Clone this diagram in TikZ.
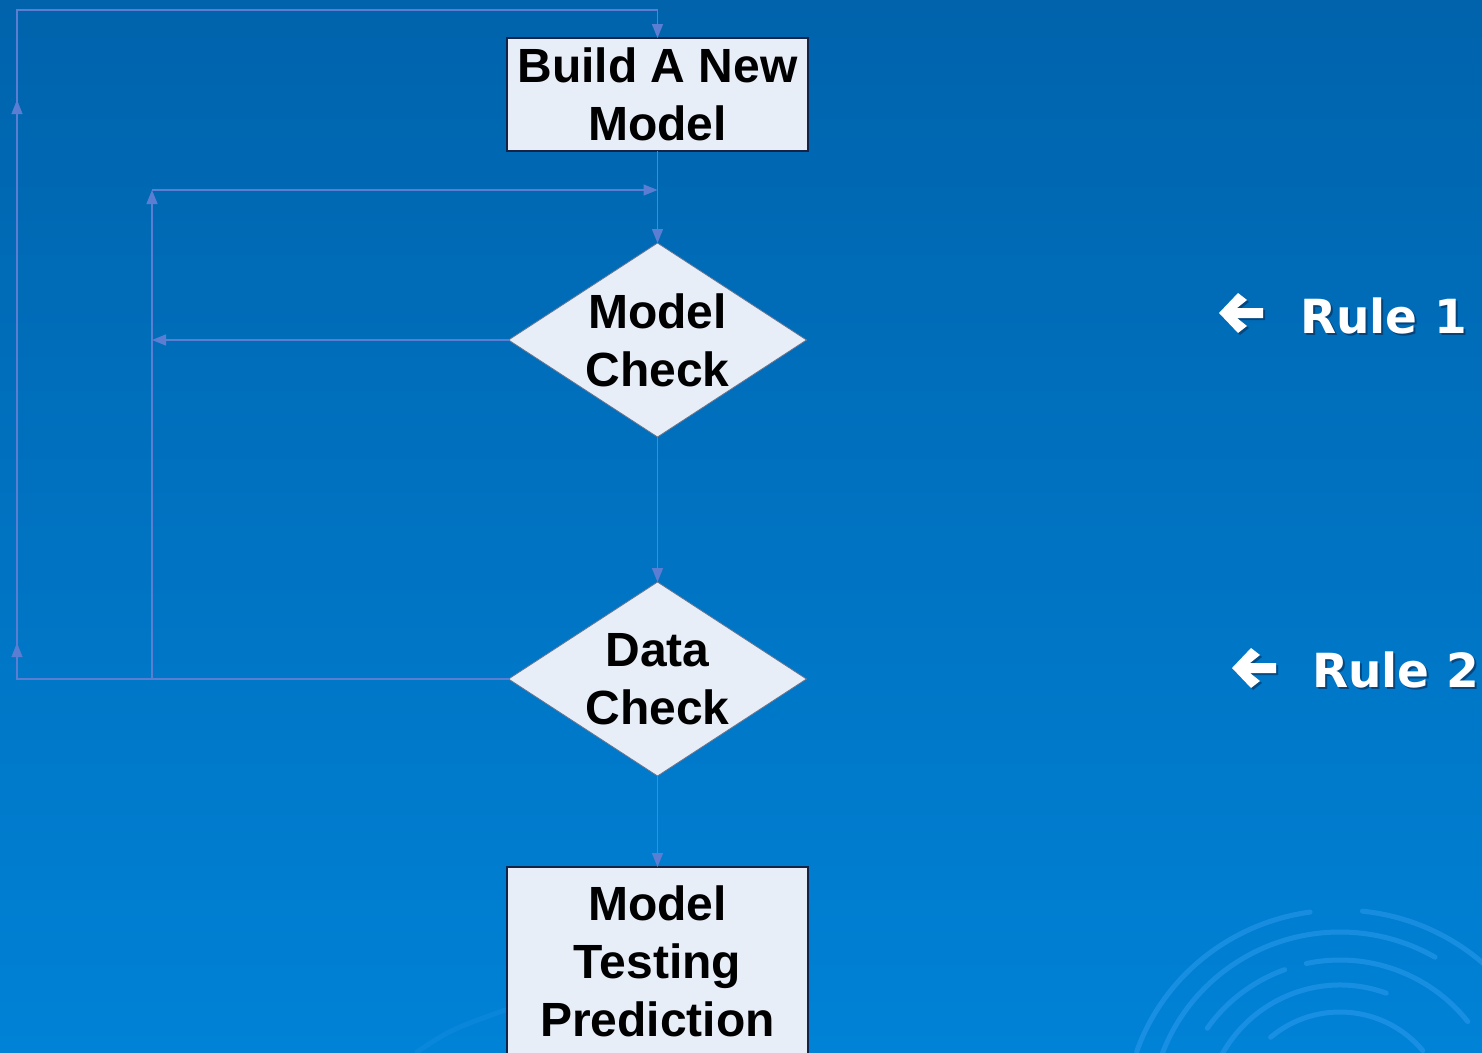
\documentclass[tikz,border=0pt]{standalone}
\usepackage{fontspec}
\setmainfont{Liberation Sans}
\newfontfamily\rulefont{DejaVu Sans}
\usetikzlibrary{shapes.geometric, arrows.meta, decorations.markings}

\definecolor{bgtop}{RGB}{0,99,172}
\definecolor{bgbot}{RGB}{0,130,214}
\definecolor{linkblue}{RGB}{92,126,210}
\definecolor{boxfill}{RGB}{232,238,248}
\definecolor{boxline}{RGB}{20,35,70}
\definecolor{ripple}{RGB}{45,155,238}
\definecolor{shadowblue}{RGB}{10,40,80}

\tikzset{flowhead/.tip={Triangle[length=14pt,width=11pt]}}

\begin{document}
\begin{tikzpicture}[x=1pt,y=-1pt,
  every node/.style={inner sep=0pt, outer sep=0pt},
  flowtext/.style={font=\fontsize{48}{58}\selectfont\bfseries, align=center, text=black},
  procbox/.style={rectangle, draw=boxline, line width=1.5pt, fill=boxfill, minimum width=301pt},
  decision/.style={diamond, draw=boxline!60!boxfill, line width=0.8pt, fill=boxfill,
                   minimum width=298pt, minimum height=194pt},
  flow/.style={draw=linkblue, line width=1.3pt, -flowhead},
  ruletext/.style={font=\rulefont\bfseries\fontsize{47}{56}\selectfont, anchor=base west},
  ripplestroke/.style={draw=ripple, line width=5pt, opacity=0.55, line cap=round},
  pics/backarrow/.style={code={
    \fill[shadowblue, opacity=0.55, shift={(2,2)}]
      (0,0) -- (19,-20) -- (28,-13) -- (18,-5) -- (44,-5) -- (44,5) -- (18,5) -- (28,13) -- (19,20) -- cycle;
    \fill[white]
      (0,0) -- (19,-20) -- (28,-13) -- (18,-5) -- (44,-5) -- (44,5) -- (18,5) -- (28,13) -- (19,20) -- cycle;
  }},
]
\useasboundingbox (0,0) rectangle (1482,1052);
\clip (0,0) rectangle (1482,1052);

% background
\shade[top color=bgtop, bottom color=bgbot] (0,0) rectangle (1482,1052);

% ripple rings, lower right
\begin{scope}[ripplestroke]
  \draw (1340,1120) ++(199:215 and 210) arc[start angle=199, end angle=262, x radius=215, y radius=210];
  \draw (1340,1120) ++(276:215 and 210) arc[start angle=276, end angle=340, x radius=215, y radius=210];
  \draw (1340,1120) ++(196:190 and 188) arc[start angle=196, end angle=300, x radius=190, y radius=188];
  \draw (1340,1120) ++(215:162 and 160) arc[start angle=215, end angle=250, x radius=162, y radius=160];
  \draw (1340,1120) ++(258:162 and 160) arc[start angle=258, end angle=322, x radius=162, y radius=160];
  \draw (1340,1120) ++(200:135 and 135) arc[start angle=200, end angle=290, x radius=135, y radius=135];
  \draw (1340,1120) ++(230:108 and 108) arc[start angle=230, end angle=320, x radius=108, y radius=108];
\end{scope}
\draw[ripplestroke, opacity=0.2] (417,1052) .. controls (450,1030) .. (505,1010);

% flowchart nodes
\node[procbox, minimum height=113pt, flowtext] (build) at (657.5,94.5) {Build A New\\Model};
\node[decision] (mc) at (657.5,340) {};
\node[flowtext] (mctext) at (mc.center) {Model\\Check};
\node[decision] (dc) at (657.5,679) {};
\node[flowtext] (dctext) at (dc.center) {Data\\Check};
\node[procbox, minimum height=200pt] (test) at (657.5,967) {};
\node[flowtext] (testtext) at ([yshift=6pt]test.center) {Model\\Testing\\Prediction};

% loop-back routing points
\coordinate (outerbottom) at (17,679);
\coordinate (outertop) at (17,10);
\coordinate (innerbottom) at (152,679);
\coordinate (innertop) at (152,190);

% main line
\draw[flow] (build.south) -- (mc.north);
\draw[flow] (mc.south) -- (dc.north);
\draw[flow] (dc.south) -- (test.north);

% data check fails: back to a new model
\draw[flow] (dc.west) -- (outerbottom) -- (outertop) -- (outertop -| build.north) -- (build.north);
\path[color=linkblue, postaction=decorate,
      decoration={markings,
        mark=at position 36pt with {\arrow{flowhead}},
        mark=at position 579pt with {\arrow{flowhead}}}]
  (outerbottom) -- (outertop);

% model check fails: back to the model check
\draw[flow] (mc.west) -- (mc.west -| innerbottom);
\draw[flow] (innerbottom) -- (innertop);
\draw[flow] (innertop) -- (innertop -| build.south);

% rule markers
\pic at (1219,313) {backarrow};
\node[ruletext, text=shadowblue, opacity=0.6] (rule1shadow) at (1302,335) {Rule 1};
\node[ruletext, text=white] (rule1) at (1300,333) {Rule 1};

\pic at (1232,668) {backarrow};
\node[ruletext, text=shadowblue, opacity=0.6] (rule2shadow) at (1314,689) {Rule 2};
\node[ruletext, text=white] (rule2) at (1312,687) {Rule 2};
\end{tikzpicture}
\end{document}
